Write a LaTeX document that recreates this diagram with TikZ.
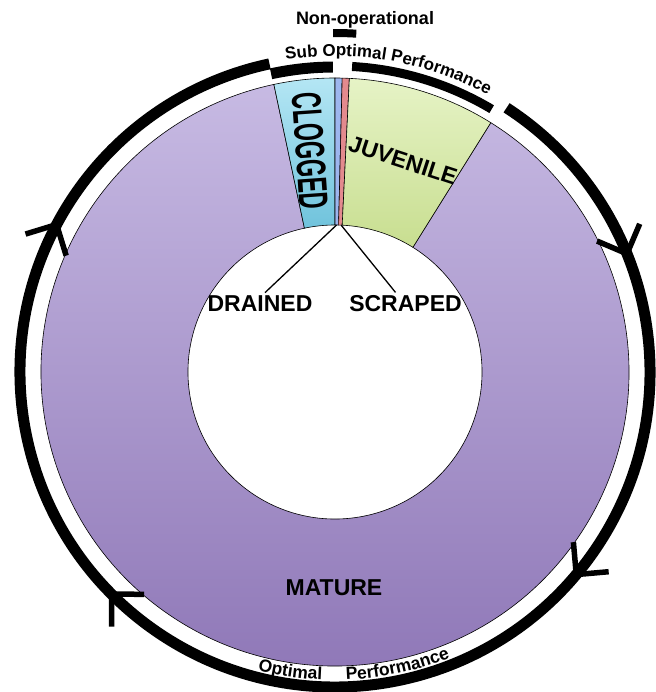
\documentclass[tikz,border=0pt]{standalone}
\usepackage{fontspec}
\setmainfont{Liberation Sans}
\usetikzlibrary{decorations.markings,decorations.text}
\definecolor{matureTop}{HTML}{C7BAE3}
\definecolor{matureBot}{HTML}{8C74B5}
\definecolor{juvTop}{HTML}{E6F3C6}
\definecolor{juvBot}{HTML}{C8DE90}
\definecolor{clogTop}{HTML}{B4E6F4}
\definecolor{clogBot}{HTML}{70C3DC}
\definecolor{drainCol}{HTML}{9DB6EE}
\definecolor{scrapeCol}{HTML}{E38A8E}
\def\arcfont{\bfseries\fontsize{17}{20}\selectfont}
\def\botfont{\bfseries\fontsize{17.5}{20}\selectfont}
\def\barb{\draw[line width=5.5pt] (-23pt,23pt) -- (0pt,0pt) -- (-23pt,-23pt);}
\tikzset{
  slice/.style={draw=black, line width=0.6pt},
  lbl/.style={font=\bfseries\fontsize{23}{27}\selectfont},
  smalllbl/.style={font=\bfseries\fontsize{18}{21}\selectfont},
}
\begin{document}
\begin{tikzpicture}[x=1pt,y=1pt]
    \def\rin{147}
    \def\rout{294}
    \def\rarc{315}
    \useasboundingbox (-335,-320) rectangle (320,372);
    \foreach \a/\b/\tc/\bc in {58/-258/matureTop/matureBot,
      102/90/clogTop/clogBot, 90/88.6/drainCol/drainCol,
      88.6/87.2/scrapeCol/scrapeCol, 87.2/58/juvTop/juvBot} {
      \path [slice, top color=\tc, bottom color=\bc] (\a:\rin) -- (\a:\rout)
      arc [start angle=\a, end angle=\b, radius=\rout] -- (\b:\rin)
      arc [start angle=\b, end angle=\a, radius=\rin] -- cycle ;
    }
    \coordinate (dtip) at (89.4:\rin) ;
    \coordinate (stip) at (87.6:\rin) ;
    \node [lbl, rotate=-86, yscale=1.8] (clogged) at (-25,221) {CLOGGED} ;
    \node [lbl, rotate=-18] (juvenile) at (68,211.5) {JUVENILE} ;
    \node [lbl, anchor=base] (mature) at (-1,-223) {MATURE} ;
    \node [lbl, anchor=base] (drained) at (-75,60) {DRAINED} ;
    \node [lbl, anchor=base] (scraped) at (70.5,60) {SCRAPED} ;
    \draw [line width=1.3pt] (dtip) -- ([xshift=5pt]drained.north) ;
    \draw [line width=1.3pt] (stip) -- ([xshift=-10pt]scraped.north) ;
    % brackets round the ring
    \draw [line width=11pt] (102.1:305) arc [start angle=102.1, end angle=90.4, radius=305] ;
    \draw [line width=9pt] (86.8:306) arc [start angle=86.8, end angle=59.2, radius=306] ;
    \draw [line width=8pt] (90.3:339) arc [start angle=90.3, end angle=86.4, radius=339] ;
    \node [smalllbl, anchor=base] (nonop) at (30,347.5) {Non-operational} ;
    \path [font=\arcfont, decorate, decoration={text along path, text align=center,
      text={|\arcfont|Sub Optimal Performance}}]
      (102:316) arc [start angle=102, end angle=58, radius=316] ;
    % the cycle
    \draw [line width=11pt, postaction={decorate}, decoration={markings,
      mark=at position 0.111 with {\barb}, mark=at position 0.308 with {\barb},
      mark=at position 0.610 with {\barb}, mark=at position 0.841 with {\barb}}]
      (57:\rarc) arc [start angle=57, end angle=-258, radius=\rarc] ;
    \path [font=\botfont, decorate, decoration={text along path, text align=center,
      text={|\botfont|Optimal}}]
      (253:308) arc [start angle=253, end angle=270, radius=308] ;
    \path [font=\botfont, decorate, decoration={text along path, text align=center,
      text={|\botfont|Performance}}]
      (270:308) arc [start angle=270, end angle=294, radius=308] ;
  \end{tikzpicture}
\end{document}
